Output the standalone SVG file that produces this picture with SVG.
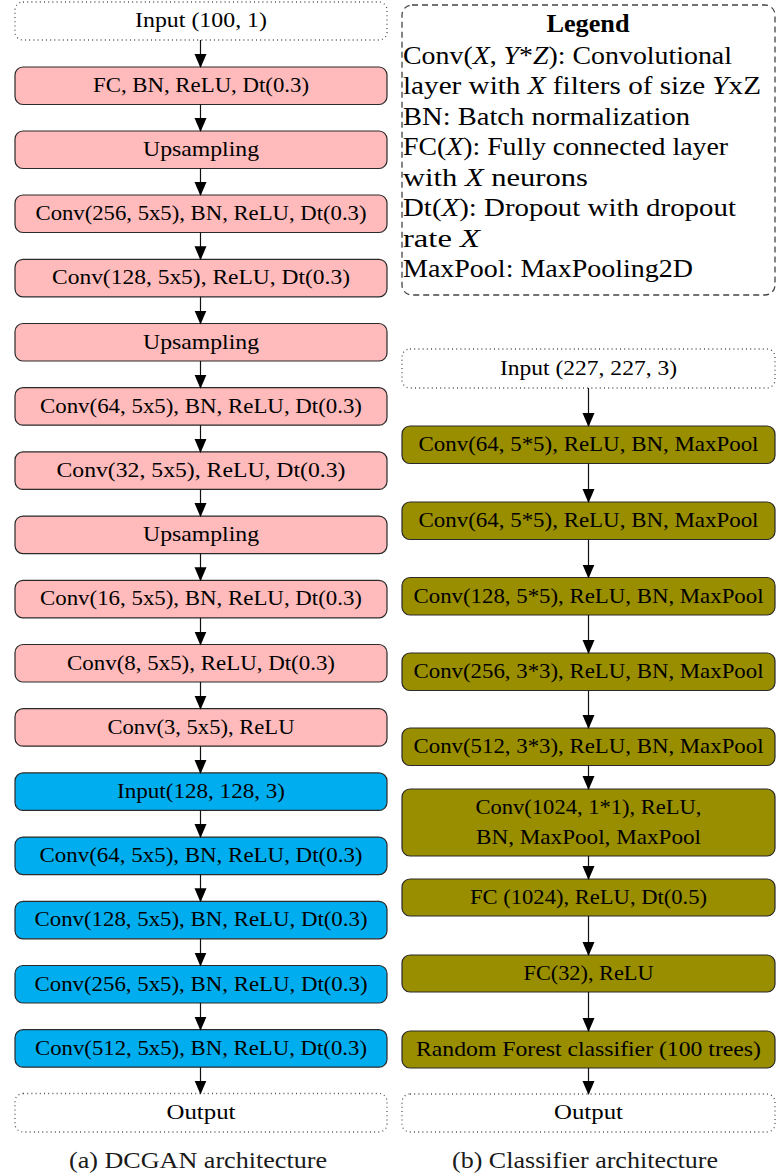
<svg xmlns="http://www.w3.org/2000/svg" width="781" height="1176" viewBox="0 0 781 1176">
<style>
text{font-family:"Liberation Serif","Times New Roman",serif;fill:#000;}
.t{font-size:21px;text-anchor:middle;}
.lg{font-size:25px;}
.cap{font-size:23px;text-anchor:middle;fill:#1a1a1a;}
.pink{fill:#FFBBBB;stroke:#2a2a2a;stroke-width:1.2;}
.blue{fill:#00AEEF;stroke:#2a2a2a;stroke-width:1.2;}
.olive{fill:#998D00;stroke:#2a2a2a;stroke-width:1.2;}
.dot{fill:#fff;stroke:#555;stroke-width:1.3;stroke-dasharray:1 3.2;}
.legend{fill:#fff;stroke:#444;stroke-width:1.3;stroke-dasharray:6 4;}
.c{stroke:#111;stroke-width:1.2;fill:none;marker-end:url(#ah);}
</style>
<defs>
<marker id="ah" markerWidth="14" markerHeight="14" refX="13" refY="6.5" orient="auto" markerUnits="userSpaceOnUse" viewBox="0 0 14 13">
<path d="M0,0.5 L14,6.5 L0,12.5 z" fill="#000"/>
</marker>
</defs>

<!-- Left column: DCGAN -->
<g id="a-input"><rect class="dot" x="15" y="2" width="372" height="38" rx="8"/><text class="t" x="201" y="27" textLength="132" lengthAdjust="spacingAndGlyphs">Input (100, 1)</text></g>
<g id="a-fc"><rect class="pink" x="15" y="67" width="372" height="37.5" rx="8"/><text class="t" x="201" y="92" textLength="216" lengthAdjust="spacingAndGlyphs">FC, BN, ReLU, Dt(0.3)</text></g>
<g id="a-up1"><rect class="pink" x="15" y="131" width="372" height="37.5" rx="8"/><text class="t" x="201" y="156" textLength="116" lengthAdjust="spacingAndGlyphs">Upsampling</text></g>
<g id="a-conv256"><rect class="pink" x="15" y="195" width="372" height="37.5" rx="8"/><text class="t" x="201" y="220" textLength="331" lengthAdjust="spacingAndGlyphs">Conv(256, 5x5), BN, ReLU, Dt(0.3)</text></g>
<g id="a-conv128"><rect class="pink" x="15" y="259.3" width="372" height="37.5" rx="8"/><text class="t" x="201" y="284.3" textLength="298" lengthAdjust="spacingAndGlyphs">Conv(128, 5x5), ReLU, Dt(0.3)</text></g>
<g id="a-up2"><rect class="pink" x="15" y="323.5" width="372" height="37.5" rx="8"/><text class="t" x="201" y="348.5" textLength="116" lengthAdjust="spacingAndGlyphs">Upsampling</text></g>
<g id="a-conv64"><rect class="pink" x="15" y="387.7" width="372" height="37.5" rx="8"/><text class="t" x="201" y="412.7" textLength="322" lengthAdjust="spacingAndGlyphs">Conv(64, 5x5), BN, ReLU, Dt(0.3)</text></g>
<g id="a-conv32"><rect class="pink" x="15" y="451.9" width="372" height="37.5" rx="8"/><text class="t" x="201" y="476.9" textLength="289" lengthAdjust="spacingAndGlyphs">Conv(32, 5x5), ReLU, Dt(0.3)</text></g>
<g id="a-up3"><rect class="pink" x="15" y="516.1" width="372" height="37.5" rx="8"/><text class="t" x="201" y="541.1" textLength="116" lengthAdjust="spacingAndGlyphs">Upsampling</text></g>
<g id="a-conv16"><rect class="pink" x="15" y="580.3" width="372" height="37.5" rx="8"/><text class="t" x="201" y="605.3" textLength="322" lengthAdjust="spacingAndGlyphs">Conv(16, 5x5), BN, ReLU, Dt(0.3)</text></g>
<g id="a-conv8"><rect class="pink" x="15" y="644.5" width="372" height="37.5" rx="8"/><text class="t" x="201" y="669.5" textLength="268" lengthAdjust="spacingAndGlyphs">Conv(8, 5x5), ReLU, Dt(0.3)</text></g>
<g id="a-conv3"><rect class="pink" x="15" y="708.7" width="372" height="37.5" rx="8"/><text class="t" x="201" y="733.7" textLength="187" lengthAdjust="spacingAndGlyphs">Conv(3, 5x5), ReLU</text></g>
<g id="a-input128"><rect class="blue" x="15" y="772.9" width="372" height="37.5" rx="8"/><text class="t" x="201" y="797.9" textLength="168" lengthAdjust="spacingAndGlyphs">Input(128, 128, 3)</text></g>
<g id="a-d64"><rect class="blue" x="15" y="837.1" width="372" height="37.5" rx="8"/><text class="t" x="201" y="862.1" textLength="323" lengthAdjust="spacingAndGlyphs">Conv(64, 5x5), BN, ReLU, Dt(0.3)</text></g>
<g id="a-d128"><rect class="blue" x="15" y="901.3" width="372" height="37.5" rx="8"/><text class="t" x="201" y="926.3" textLength="333" lengthAdjust="spacingAndGlyphs">Conv(128, 5x5), BN, ReLU, Dt(0.3)</text></g>
<g id="a-d256"><rect class="blue" x="15" y="965.5" width="372" height="37.5" rx="8"/><text class="t" x="201" y="990.5" textLength="333" lengthAdjust="spacingAndGlyphs">Conv(256, 5x5), BN, ReLU, Dt(0.3)</text></g>
<g id="a-d512"><rect class="blue" x="15" y="1029.7" width="372" height="37.5" rx="8"/><text class="t" x="201" y="1054.7" textLength="332" lengthAdjust="spacingAndGlyphs">Conv(512, 5x5), BN, ReLU, Dt(0.3)</text></g>
<g id="a-output"><rect class="dot" x="15" y="1093.5" width="372" height="38.5" rx="8"/><text class="t" x="201" y="1118.5" textLength="69" lengthAdjust="spacingAndGlyphs">Output</text></g>
<text id="cap-a" class="cap" x="198" y="1168" textLength="258" lengthAdjust="spacingAndGlyphs">(a) DCGAN architecture</text>

<!-- Legend -->
<g id="legend">
<rect class="legend" x="402" y="5" width="373" height="290" rx="10"/>
<text class="lg" x="588" y="32" text-anchor="middle" font-weight="bold" textLength="83" lengthAdjust="spacingAndGlyphs">Legend</text>
<text class="lg" x="403" y="63.5" textLength="329" lengthAdjust="spacingAndGlyphs">Conv(<tspan font-style="italic">X</tspan>, <tspan font-style="italic">Y</tspan>*<tspan font-style="italic">Z</tspan>): Convolutional</text>
<text class="lg" x="403" y="94" textLength="358" lengthAdjust="spacingAndGlyphs">layer with <tspan font-style="italic">X</tspan> filters of size <tspan font-style="italic">Y</tspan>xZ</text>
<text class="lg" x="403" y="124.5" textLength="287" lengthAdjust="spacingAndGlyphs">BN: Batch normalization</text>
<text class="lg" x="403" y="155" textLength="325" lengthAdjust="spacingAndGlyphs">FC(<tspan font-style="italic">X</tspan>): Fully connected layer</text>
<text class="lg" x="403" y="185.5" textLength="185" lengthAdjust="spacingAndGlyphs">with <tspan font-style="italic">X</tspan> neurons</text>
<text class="lg" x="403" y="216" textLength="333" lengthAdjust="spacingAndGlyphs">Dt(<tspan font-style="italic">X</tspan>): Dropout with dropout</text>
<text class="lg" x="403" y="246.5" textLength="77" lengthAdjust="spacingAndGlyphs">rate <tspan font-style="italic">X</tspan></text>
<text class="lg" x="403" y="277" textLength="290" lengthAdjust="spacingAndGlyphs">MaxPool: MaxPooling2D</text>
</g>

<!-- Right column: Classifier -->
<g id="b-input"><rect class="dot" x="402" y="349" width="373" height="39" rx="8"/><text class="t" x="588.5" y="374.5" textLength="177" lengthAdjust="spacingAndGlyphs">Input (227, 227, 3)</text></g>
<g id="b-conv64a"><rect class="olive" x="402" y="426" width="373" height="37.5" rx="8"/><text class="t" x="588.5" y="451" textLength="340" lengthAdjust="spacingAndGlyphs">Conv(64, 5*5), ReLU, BN, MaxPool</text></g>
<g id="b-conv64b"><rect class="olive" x="402" y="502" width="373" height="37.5" rx="8"/><text class="t" x="588.5" y="527" textLength="340" lengthAdjust="spacingAndGlyphs">Conv(64, 5*5), ReLU, BN, MaxPool</text></g>
<g id="b-conv128"><rect class="olive" x="402" y="577.5" width="373" height="37.5" rx="8"/><text class="t" x="588.5" y="602.5" textLength="350" lengthAdjust="spacingAndGlyphs">Conv(128, 5*5), ReLU, BN, MaxPool</text></g>
<g id="b-conv256"><rect class="olive" x="402" y="653" width="373" height="37.5" rx="8"/><text class="t" x="588.5" y="678" textLength="350" lengthAdjust="spacingAndGlyphs">Conv(256, 3*3), ReLU, BN, MaxPool</text></g>
<g id="b-conv512"><rect class="olive" x="402" y="728" width="373" height="37.5" rx="8"/><text class="t" x="588.5" y="753" textLength="350" lengthAdjust="spacingAndGlyphs">Conv(512, 3*3), ReLU, BN, MaxPool</text></g>
<g id="b-conv1024"><rect class="olive" x="402" y="789" width="373" height="67" rx="8"/><text class="t" x="588.5" y="814" textLength="226" lengthAdjust="spacingAndGlyphs">Conv(1024, 1*1), ReLU,</text><text class="t" x="588.5" y="844" textLength="225" lengthAdjust="spacingAndGlyphs">BN, MaxPool, MaxPool</text></g>
<g id="b-fc1024"><rect class="olive" x="402" y="879" width="373" height="37" rx="8"/><text class="t" x="588.5" y="904" textLength="237" lengthAdjust="spacingAndGlyphs">FC (1024), ReLU, Dt(0.5)</text></g>
<g id="b-fc32"><rect class="olive" x="402" y="955" width="373" height="37" rx="8"/><text class="t" x="588.5" y="980" textLength="130" lengthAdjust="spacingAndGlyphs">FC(32), ReLU</text></g>
<g id="b-rf"><rect class="olive" x="402" y="1031" width="373" height="37" rx="8"/><text class="t" x="588.5" y="1056" textLength="345" lengthAdjust="spacingAndGlyphs">Random Forest classifier (100 trees)</text></g>
<g id="b-output"><rect class="dot" x="402" y="1094" width="373" height="38" rx="8"/><text class="t" x="588.5" y="1119" textLength="69" lengthAdjust="spacingAndGlyphs">Output</text></g>
<text id="cap-b" class="cap" x="585" y="1168" textLength="266" lengthAdjust="spacingAndGlyphs">(b) Classifier architecture</text>

<!-- Connectors -->
<g id="connectors">
<line class="c" x1="200.5" y1="40" x2="200.5" y2="67"/>
<line class="c" x1="200.5" y1="104.5" x2="200.5" y2="131"/>
<line class="c" x1="200.5" y1="168.5" x2="200.5" y2="195"/>
<line class="c" x1="200.5" y1="232.5" x2="200.5" y2="259.3"/>
<line class="c" x1="200.5" y1="296.8" x2="200.5" y2="323.5"/>
<line class="c" x1="200.5" y1="361" x2="200.5" y2="387.7"/>
<line class="c" x1="200.5" y1="425.2" x2="200.5" y2="451.9"/>
<line class="c" x1="200.5" y1="489.4" x2="200.5" y2="516.1"/>
<line class="c" x1="200.5" y1="553.6" x2="200.5" y2="580.3"/>
<line class="c" x1="200.5" y1="617.8" x2="200.5" y2="644.5"/>
<line class="c" x1="200.5" y1="682" x2="200.5" y2="708.7"/>
<line class="c" x1="200.5" y1="746.2" x2="200.5" y2="772.9"/>
<line class="c" x1="200.5" y1="810.4" x2="200.5" y2="837.1"/>
<line class="c" x1="200.5" y1="874.6" x2="200.5" y2="901.3"/>
<line class="c" x1="200.5" y1="938.8" x2="200.5" y2="965.5"/>
<line class="c" x1="200.5" y1="1003" x2="200.5" y2="1029.7"/>
<line class="c" x1="200.5" y1="1067.2" x2="200.5" y2="1093.5"/>
<line class="c" x1="588.5" y1="388" x2="588.5" y2="426"/>
<line class="c" x1="588.5" y1="463.5" x2="588.5" y2="502"/>
<line class="c" x1="588.5" y1="539.5" x2="588.5" y2="577.5"/>
<line class="c" x1="588.5" y1="615" x2="588.5" y2="653"/>
<line class="c" x1="588.5" y1="690.5" x2="588.5" y2="728"/>
<line class="c" x1="588.5" y1="765.5" x2="588.5" y2="789"/>
<line class="c" x1="588.5" y1="856" x2="588.5" y2="879"/>
<line class="c" x1="588.5" y1="916" x2="588.5" y2="955"/>
<line class="c" x1="588.5" y1="992" x2="588.5" y2="1031"/>
<line class="c" x1="588.5" y1="1068" x2="588.5" y2="1094"/>
</g>
</svg>
